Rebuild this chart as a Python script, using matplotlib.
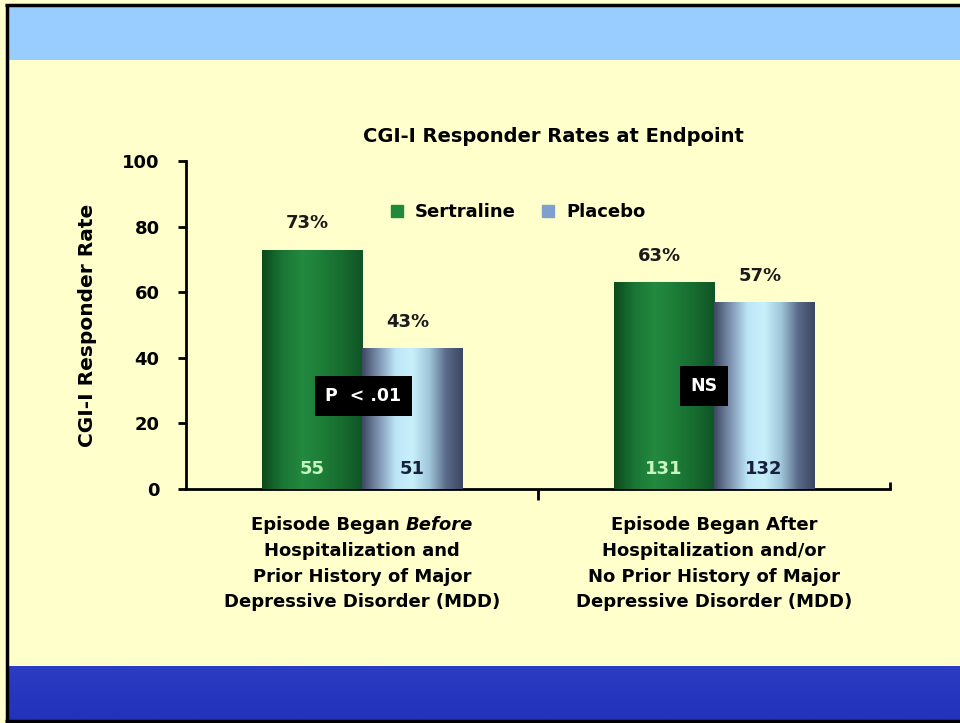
import numpy as np
import matplotlib.pyplot as plt
from matplotlib.colors import LinearSegmentedColormap
from matplotlib.patches import Rectangle
from matplotlib.lines import Line2D

# data
groups = ["Episode Began Before\nHospitalization and\nPrior History of Major\nDepressive Disorder (MDD)",
          "Episode Began After\nHospitalization and/or\nNo Prior History of Major\nDepressive Disorder (MDD)"]
sertraline = [73, 63]
placebo = [43, 57]
n_sertraline = [55, 131]
n_placebo = [51, 132]
pvals = ["P  < .01", "NS"]
yticks = [0, 20, 40, 60, 80, 100]

plt.rcParams['font.family'] = ['DejaVu Sans']
plt.rcParams['font.weight'] = 'bold'
plt.rcParams['axes.labelweight'] = 'bold'

fig = plt.figure(figsize=(9.6, 7.23), dpi=100)
fig.patch.set_facecolor('#FFFFCC')
H = 723.0
W = 960.0

# slide decorations: top band, bottom band, border
fig.add_artist(Rectangle((8 / W, 1 - 60 / H), 1, 55 / H, transform=fig.transFigure,
                         facecolor='#99CCFF', edgecolor='none'))
band = fig.add_axes([8 / W, 1 - 719.5 / H, 1, 53.5 / H])
band.imshow(np.linspace(0, 1, 50).reshape(-1, 1), aspect='auto',
            cmap=LinearSegmentedColormap.from_list('band', ['#2B3DC2', '#2232BC']),
            extent=(0, 1, 0, 1))
band.set_axis_off()
fig.add_artist(Line2D([6.5 / W, 6.5 / W], [1 - 4 / H, 1 - 721 / H], transform=fig.transFigure,
                      color='black', lw=2.5, solid_capstyle='butt'))
fig.add_artist(Line2D([5 / W, 1], [1 - 4.5 / H, 1 - 4.5 / H], transform=fig.transFigure,
                      color='black', lw=2.5, solid_capstyle='butt'))
fig.add_artist(Line2D([5 / W, 1], [1 - 720.5 / H, 1 - 720.5 / H], transform=fig.transFigure,
                      color='black', lw=2.5, solid_capstyle='butt'))

ax = fig.add_axes([186 / W, 1 - 489 / H, 704 / W, 328 / H])
ax.set_facecolor('none')

centers = np.array([0.5, 1.5])
w = 0.285

green_cmap = LinearSegmentedColormap.from_list(
    'g', ['#0c4a1c', '#1a7535', '#238a40', '#1d7d38', '#176b2e', '#0f5426'])
blue_cmap = LinearSegmentedColormap.from_list(
    'b', ['#3c4762', '#7f95b2', '#bde5f7', '#c8f0fc', '#a0c6da', '#5a6b8a', '#3b4661'])

bars_s = ax.bar(centers - w / 2, sertraline, w, color='#1f833a', edgecolor='none', zorder=2)
bars_p = ax.bar(centers + w / 2, placebo, w, color='#9cc3d8', edgecolor='none', zorder=2)

grad = np.linspace(0, 1, 256).reshape(1, -1)
for bars, cmap in [(bars_s, green_cmap), (bars_p, blue_cmap)]:
    for b in bars:
        x0 = b.get_x()
        im = ax.imshow(grad, cmap=cmap, aspect='auto', zorder=3,
                       extent=(x0, x0 + b.get_width(), 0, b.get_height()))
        im.set_clip_path(b)

# percentage labels above bars
for xs, vals in [(centers - w / 2, sertraline), (centers + w / 2, placebo)]:
    for x, v in zip(xs, vals):
        ax.annotate(f"{v}%", (x, v), xytext=(-3, 19), textcoords='offset points',
                    ha='center', va='center', fontsize=13, color='#1a1a1a', zorder=5)

# n inside bars
for x, n in zip(centers - w / 2, n_sertraline):
    ax.text(x, 6, str(n), ha='center', va='center', fontsize=13, color='#c8f5c0', zorder=5)
for x, n in zip(centers + w / 2, n_placebo):
    ax.text(x, 6, str(n), ha='center', va='center', fontsize=13, color='#16203d', zorder=5)

# significance boxes
box_pos = [(0.504, 28.4), (1.472, 31.4)]
for (x, y), s in zip(box_pos, pvals):
    ax.text(x, y, s, ha='center', va='center', fontsize=12.5, color='white', zorder=6,
            bbox=dict(boxstyle='square,pad=0.62', facecolor='black', edgecolor='none'))

# legend
handles = [Line2D([], [], marker='s', ls='none', markersize=9, color='#1f8a3a'),
           Line2D([], [], marker='s', ls='none', markersize=9, color='#7f9fcf')]
ax.legend(handles, ['Sertraline', 'Placebo'], loc='center', bbox_to_anchor=(0.47, 0.845),
          ncol=2, frameon=False, fontsize=13, handletextpad=0.5, columnspacing=1.3,
          handlelength=1.0)

ax.set_xlim(0, 2)
ax.set_ylim(0, 100)
ax.set_yticks(yticks)
ax.set_xticks([1])
ax.set_xticklabels([''])
ax.set_xticks([2], minor=True)
ax.tick_params(axis='y', length=6, width=2, pad=13, labelsize=13)
ax.tick_params(axis='x', which='major', length=8, width=2, direction='out')
ax.tick_params(axis='x', which='minor', length=5, width=2, direction='in')
for s in ['top', 'right']:
    ax.spines[s].set_visible(False)
for s in ['left', 'bottom']:
    ax.spines[s].set_linewidth(2)
ax.set_ylabel('CGI-I Responder Rate', fontsize=14.5)
ax.yaxis.set_label_coords(-(186 - 97) / 704, 0.5)

fig.text(553 / W, 1 - 137 / H, 'CGI-I Responder Rates at Endpoint', ha='center', va='center',
         fontsize=14)

# category labels
line_y = [525, 551, 577, 602]
xt = ax.get_xaxis_transform()
renderer = fig.canvas.get_renderer()
for ci, (c, lab) in enumerate(zip(centers, groups)):
    lines = lab.split('\n')
    for li, (ln, py) in enumerate(zip(lines, line_y)):
        y = (489 - py) / 328
        if ci == 0 and li == 0:
            a = ax.text(0, y, 'Episode Began', transform=xt, ha='left', va='center', fontsize=13)
            b = ax.text(0, y, 'Before', transform=xt, ha='left', va='center', fontsize=13,
                        style='italic')
            wa = a.get_window_extent(renderer).width
            wb = b.get_window_extent(renderer).width
            gap = 5
            cx = ax.transData.transform((c, 0))[0]
            start = cx - (wa + gap + wb) / 2
            inv = ax.transData.inverted()
            a.set_x(inv.transform((start, 0))[0])
            b.set_x(inv.transform((start + wa + gap, 0))[0])
        else:
            ax.text(c, y, ln, transform=xt, ha='center', va='center', fontsize=13)

fig.savefig('out.png', dpi=100, facecolor=fig.get_facecolor())
